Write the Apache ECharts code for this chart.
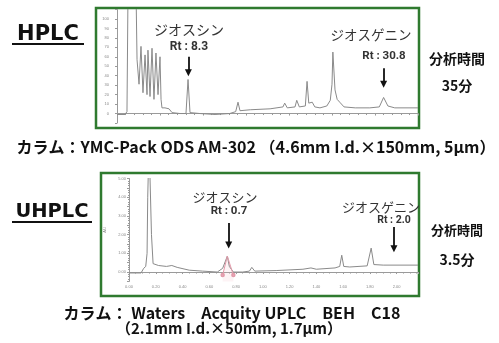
<!DOCTYPE html>
<html><head><meta charset="utf-8">
<script src="https://cdn.jsdelivr.net/npm/echarts@6/dist/echarts.min.js"></script>
<style>html,body{margin:0;padding:0;background:#fff}#c{width:499px;height:343px}</style>
</head><body><div id="c"></div>
<script>
// HPLC chromatogram (time in min, signal in arbitrary units, 0-100 scale; off-scale peaks clipped)
const hplcTime   = [0, 0.93, 1.16, 1.28, 2.21, 2.33, 2.56, 2.79, 3.02, 3.26, 3.49, 3.60, 3.84, 4.07, 4.30, 4.53, 4.77, 5.00, 5.12, 5.23, 5.58, 5.81, 6.05, 6.40, 7.33, 8.02, 8.26, 8.49, 9.65, 11.4, 13.1, 13.8, 14.07, 14.3, 15.5, 17.8, 19.3, 19.5, 19.8, 20.7, 20.9, 21.2, 21.9, 22.1, 22.3, 22.7, 23.0, 23.6, 24.4, 24.8, 25.0, 25.1, 25.35, 25.6, 25.9, 26.4, 27.7, 29.4, 30.5, 31.0, 31.5, 32.3, 35];
const hplcSignal = [-1, -1, 2, 130, 130, 57, 31, 71, 22, 62, 20, 67, 18, 69, 15, 64, 20, 60, 15, 6, 6, 8, 5, 1, 0, 0, 36, 1, 0, -1, 0, 2, 12, 3, 4, 5, 7, 11, 6, 7, 14, 7, 8, 34, 11, 12, 7, 6, 8, 14, 31, 65, 25, 15, 12, 7, 6, 6, 7, 17, 8, 6, 6];

// UHPLC chromatogram (time in min, absorbance units)
const uhplcTime   = [0, 0.09, 0.10, 0.11, 0.125, 0.135, 0.14, 0.15, 0.16, 0.168, 0.18, 0.22, 0.28, 0.32, 0.36, 0.45, 0.55, 0.66, 0.70, 0.735, 0.75, 0.78, 0.85, 0.90, 0.918, 0.94, 1.10, 1.30, 1.36, 1.40, 1.54, 1.575, 1.59, 1.605, 1.65, 1.78, 1.81, 1.83, 1.90, 2.16];
const uhplcSignal = [-0.05, -0.05, 0.05, 0.2, 0.3, 1.0, 4.0, 7, 7, 2, 0.45, 0.35, 0.3, 0.35, 0.25, 0.1, 0.05, 0.0, 0.2, 0.85, 0.3, 0.0, 0.0, 0.05, 0.25, 0.05, 0.08, 0.15, 0.22, 0.15, 0.22, 0.3, 0.9, 0.3, 0.27, 0.33, 1.28, 0.4, 0.37, 0.37];
// peak integration marker on the ジオスシン peak
const integTime   = [0.70, 0.735, 0.78];
const integSignal = [-0.16, 0.85, -0.16];

// annotations
const hplcPeaks  = [{name: 'ジオスシン', rt: 'Rt : 8.3', t: 8.3}, {name: 'ジオスゲニン', rt: 'Rt : 30.8', t: 31.0}];
const uhplcPeaks = [{name: 'ジオスシン', rt: 'Rt : 0.7', t: 0.745}, {name: 'ジオスゲニン', rt: 'Rt : 2.0', t: 1.98}];
const hplcArrowRange  = [[60, 43], [48, 31]];
const uhplcArrowRange = [[2.62, 1.45], [2.41, 1.25]];

const chart = echarts.init(document.getElementById('c'), null, {renderer: 'canvas', width: 499, height: 343});
const lineColor = '#8a8a8a';
const axisColor = '#9a9a9a';
const green = '#2f7a2f';
const jp = '"Noto Sans CJK JP", "Noto Sans", sans-serif';

function zip(a, b) { return a.map((v, i) => [v, b[i]]); }

function arrowLines(peaks, ranges) {
  return peaks.map((p, i) => [{coord: [p.t, ranges[i][0]], symbol: 'none'}, {coord: [p.t, ranges[i][1]], symbol: 'triangle', symbolSize: [7, 7]}]);
}

const option = {
  animation: false,
  backgroundColor: '#fff',
  grid: [
    {left: 117, right: 81, top: 9.5, bottom: 220},
    {left: 129, right: 81, top: 178.5, bottom: 61.6}
  ],
  xAxis: [
    {gridIndex: 0, type: 'value', min: 0, max: 35, interval: 5,
     axisLine: {lineStyle: {color: axisColor, width: 1}},
     axisTick: {show: true, length: 2, lineStyle: {color: axisColor}},
     minorTick: {show: true, splitNumber: 5, length: 1.5, lineStyle: {color: axisColor}},
     axisLabel: {show: false}, splitLine: {show: false}},
    {gridIndex: 1, type: 'value', min: 0, max: 2.16, interval: 0.2,
     axisLine: {lineStyle: {color: axisColor, width: 1}},
     axisTick: {show: true, length: 2, lineStyle: {color: axisColor}},
     minorTick: {show: true, splitNumber: 4, length: 1.5, lineStyle: {color: axisColor}},
     axisLabel: {show: true, fontSize: 4, color: '#888', margin: 3, formatter: v => v > 2.01 ? '' : v.toFixed(2)},
     splitLine: {show: false}}
  ],
  yAxis: [
    {gridIndex: 0, type: 'value', min: -10, max: 110, interval: 10,
     axisLine: {show: true, lineStyle: {color: axisColor, width: 1}},
     axisTick: {show: true, length: 2, lineStyle: {color: axisColor}},
     axisLabel: {show: true, fontSize: 4, color: '#888', margin: 8, formatter: v => (v >= 0 && v <= 100) ? String(v) : ''},
     splitLine: {show: false}},
    {gridIndex: 1, type: 'value', min: -0.5, max: 5, interval: 0.5,
     name: 'AU', nameLocation: 'middle', nameGap: 12, nameRotate: 90, nameTextStyle: {fontSize: 4, color: '#888'},
     axisLine: {show: true, lineStyle: {color: axisColor, width: 1}},
     axisTick: {show: true, length: 2, lineStyle: {color: axisColor}},
     minorTick: {show: true, splitNumber: 4, length: 1, lineStyle: {color: axisColor}},
     axisLabel: {show: true, fontSize: 4, color: '#888', margin: 3, formatter: v => (v >= 0 && Math.abs(v - Math.round(v)) < 1e-6) ? v.toFixed(2) : ''},
     splitLine: {show: false}}
  ],
  series: [
    {type: 'line', xAxisIndex: 0, yAxisIndex: 0, data: zip(hplcTime, hplcSignal), symbol: 'none', clip: true,
     lineStyle: {color: lineColor, width: 1}, silent: true,
     markLine: {silent: true, precision: 3,
       lineStyle: {color: '#111', width: 1.8, type: 'solid'}, itemStyle: {color: '#111'}, label: {show: false}, emphasis: {disabled: true},
       data: arrowLines(hplcPeaks, hplcArrowRange)}},
    {type: 'line', xAxisIndex: 1, yAxisIndex: 1, data: zip(uhplcTime, uhplcSignal), symbol: 'none', clip: true,
     lineStyle: {color: lineColor, width: 1}, silent: true,
     markLine: {silent: true, precision: 3,
       lineStyle: {color: '#111', width: 1.8, type: 'solid'}, itemStyle: {color: '#111'}, label: {show: false}, emphasis: {disabled: true},
       data: arrowLines(uhplcPeaks, uhplcArrowRange)}},
    {type: 'line', xAxisIndex: 1, yAxisIndex: 1,
     data: zip(integTime, integSignal).map((d, i) => ({value: d, symbol: i === 1 ? 'none' : 'emptyCircle'})),
     symbolSize: 2.5, showAllSymbol: true, lineStyle: {color: '#e39aaa', width: 1}, itemStyle: {color: '#e39aaa', borderWidth: 0.8},
     areaStyle: {color: 'rgba(240,170,185,0.2)', origin: 'start'}, silent: true}
  ],
  graphic: []
};

chart.setOption(option);

const g = [];
function txt(x, y, text, size, weight, color, family, extra) {
  g.push(Object.assign({type: 'text', x: x, y: y, silent: true,
    style: {text: text, fontSize: size, fontWeight: weight, fill: color, fontFamily: family || jp,
            align: 'center', verticalAlign: 'middle', textAlign: 'center', textVerticalAlign: 'middle'}}, extra || {}));
}
// boxes
g.push({type: 'rect', silent: true, shape: {x: 96, y: 8, width: 323, height: 120}, style: {fill: 'none', stroke: green, lineWidth: 2.5}});
g.push({type: 'rect', silent: true, shape: {x: 101, y: 173, width: 318, height: 123}, style: {fill: 'none', stroke: green, lineWidth: 2.5}});
// titles
txt(48, 35, 'HPLC', 21, 'bold', '#111', '"DejaVu Sans", sans-serif');
g.push({type: 'line', silent: true, shape: {x1: 12, y1: 44, x2: 84, y2: 44}, style: {stroke: '#111', lineWidth: 2}});
txt(52, 212, 'UHPLC', 19.5, 'bold', '#111', '"DejaVu Sans", sans-serif');
g.push({type: 'line', silent: true, shape: {x1: 12, y1: 222, x2: 92, y2: 222}, style: {stroke: '#111', lineWidth: 2}});
// peak annotations
txt(189, 30, hplcPeaks[0].name, 14, 'normal', '#333');
txt(189, 47, hplcPeaks[0].rt, 12, 'bold', '#333', 'Roboto, sans-serif');
txt(371, 35, hplcPeaks[1].name, 13.5, 'normal', '#333');
txt(384, 56, hplcPeaks[1].rt, 11.5, 'bold', '#333', 'Roboto, sans-serif');
txt(225, 197, uhplcPeaks[0].name, 13, 'normal', '#333');
txt(229, 211, uhplcPeaks[0].rt, 11.5, 'bold', '#333', 'Roboto, sans-serif');
txt(381, 207, uhplcPeaks[1].name, 13, 'normal', '#333');
txt(394, 220, uhplcPeaks[1].rt, 10.5, 'bold', '#333', 'Roboto, sans-serif');
// analysis times
txt(457, 59, '分析時間', 14, 'bold', '#111');
txt(457, 86, '35分', 14, 'bold', '#111');
txt(457, 230, '分析時間', 13, 'bold', '#111');
txt(457, 260, '3.5分', 14, 'bold', '#111');
// column captions
txt(256, 147, 'カラム：YMC-Pack ODS AM-302 （4.6mm I.d.×150mm, 5μm）', 16, 'bold', '#111');
txt(232, 313, 'カラム： Waters　Acquity UPLC　BEH　C18', 16, 'bold', '#111');
txt(229, 328, '（2.1mm I.d.×50mm, 1.7μm）', 15, 'bold', '#111');

chart.setOption({graphic: g});
</script>
</body></html>
